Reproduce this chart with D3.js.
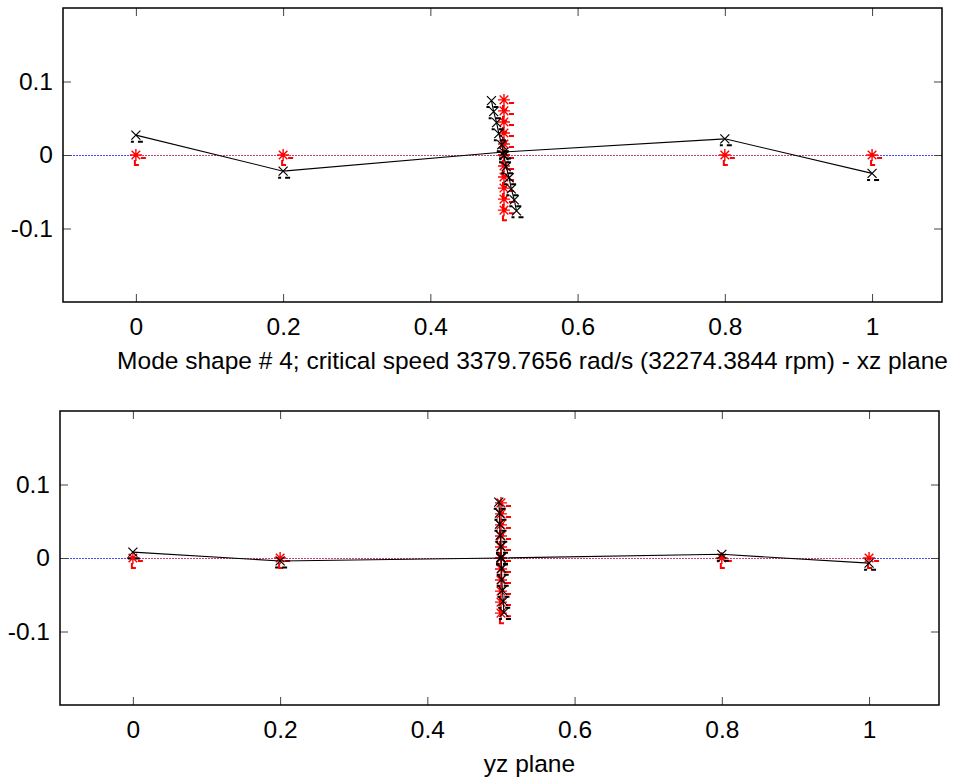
<!DOCTYPE html>
<html>
<head>
<meta charset="utf-8">
<script src="https://cdn.jsdelivr.net/npm/d3@7"></script>
<style>
body { margin: 0; background: #fff; }
svg text { font-family: "Liberation Sans", Arial, sans-serif; font-size: 24.5px; fill: #000; }
</style>
</head>
<body>
<svg id="fig" width="955" height="782"></svg>
<script>

let xTicks = [0, 0.2, 0.4, 0.6, 0.8, 1];
let yTicks = [-0.1, 0, 0.1];

// shaft nodes (undeformed red, deformed black)
let nodeX = [0, 0.2, 0.5, 0.8, 1];
let restY = [0, 0, 0, 0, 0];
let xzNodeY = [0.027, -0.022, 0.004, 0.022, -0.025];
let yzNodeY = [0.008, -0.004, 0, 0.005, -0.007];

// disk points at 0.5
let diskRestX = [0.5, 0.5, 0.5, 0.5, 0.5, 0.5, 0.5, 0.5, 0.5, 0.5, 0.5];
let diskRestY = [0.075, 0.06, 0.045, 0.03, 0.015, 0, -0.015, -0.03, -0.045, -0.06, -0.075];
let xzDiskX = [0.483, 0.486, 0.490, 0.493, 0.497, 0.500, 0.503, 0.507, 0.510, 0.514, 0.517];
let xzDiskY = [0.074, 0.059, 0.044, 0.029, 0.014, -0.001, -0.016, -0.031, -0.046, -0.061, -0.076];
let yzDiskX = [0.497, 0.498, 0.498, 0.499, 0.500, 0.500, 0.501, 0.501, 0.502, 0.503, 0.504];
let yzDiskY = [0.076, 0.061, 0.046, 0.031, 0.016, 0.001, -0.014, -0.029, -0.044, -0.059, -0.074];

let xLabels = ["Mode shape # 4; critical speed 3379.7656 rad/s (32274.3844 rpm) - xz plane", "yz plane"];

let svg = d3.select("#fig");

let panels = [
  {left: 63, right: 942, top: 8, bottom: 302, shaftY: xzNodeY, diskX: xzDiskX, diskY: xzDiskY, label: xLabels[0]},
  {left: 60, right: 939, top: 411, bottom: 705, shaftY: yzNodeY, diskX: yzDiskX, diskY: yzDiskY, label: xLabels[1]}
];

panels.forEach(p => drawPanel(p));


function drawPanel (p) {

  let x = d3.scaleLinear().domain([-0.099, 1.095]).range([p.left, p.right]);
  let y = d3.scaleLinear().domain([-0.2, 0.2]).range([p.bottom, p.top]);

  let g = svg.append("g");
  let y0 = Math.round(y(0)) + 0.5;

  // undeformed axis: blue over whole range, red/blue mix between end nodes
  g.append("line")
    .attr("x1", p.left + 1).attr("x2", p.right - 1)
    .attr("y1", y0).attr("y2", y0)
    .attr("stroke", "#4848ff").attr("stroke-width", 1)
    .attr("stroke-dasharray", "2,1");
  g.append("line")
    .attr("x1", Math.round(x(nodeX[0]))).attr("x2", Math.round(x(nodeX[nodeX.length - 1])))
    .attr("y1", y0).attr("y2", y0)
    .attr("stroke", "#c2407e").attr("stroke-width", 1)
    .attr("stroke-dasharray", "2,1");

  // red stars
  let rest = nodeX.map((v, i) => [v, restY[i]])
    .concat(diskRestX.map((v, i) => [v, diskRestY[i]]));
  let stars = g.selectAll(".star").data(rest).enter().append("g")
    .attr("class", "star")
    .attr("transform", d => `translate(${x(d[0])},${y(d[1])})`);
  stars.append("path")
    .attr("d", "M-6,0H6M0,-6V6M-4.3,-4.3L4.3,4.3M-4.3,4.3L4.3,-4.3")
    .attr("stroke", "#ff0000").attr("stroke-width", 1.4).attr("fill", "none");
  stars.append("path")
    .attr("d", "M5,3H10M-1,5V10H3")
    .attr("stroke", "#ff0000").attr("stroke-width", 2).attr("fill", "none");

  // deformed shaft and disk
  let line = d3.line().x(d => x(d[0])).y(d => y(d[1]));
  let shaft = nodeX.map((v, i) => [v, p.shaftY[i]]);
  let disk = p.diskX.map((v, i) => [v, p.diskY[i]]);
  g.append("path").datum(shaft).attr("d", line)
    .attr("fill", "none").attr("stroke", "#000").attr("stroke-width", 1.1);
  g.append("path").datum(disk).attr("d", line)
    .attr("fill", "none").attr("stroke", "#000").attr("stroke-width", 1.1);

  let crosses = g.selectAll(".cross").data(shaft.concat(disk)).enter().append("g")
    .attr("class", "cross")
    .attr("transform", d => `translate(${x(d[0])},${y(d[1])})`);
  crosses.append("path")
    .attr("d", "M-4.5,-4.5L4.5,4.5M-4.5,4.5L4.5,-4.5")
    .attr("stroke", "#000").attr("stroke-width", 1.2).attr("fill", "none");
  crosses.append("path")
    .attr("d", "M-5,6.5H-2M2,6.5H7")
    .attr("stroke", "#000").attr("stroke-width", 2).attr("fill", "none");

  // axes
  let fmt = d => String(d);
  let ax = g.append("g");
  ax.append("g").attr("transform", `translate(0,${p.bottom})`)
    .call(d3.axisBottom(x).tickValues(xTicks).tickFormat(fmt).tickSize(-8).tickPadding(16));
  ax.append("g").attr("transform", `translate(0,${p.top})`)
    .call(d3.axisTop(x).tickValues(xTicks).tickFormat("").tickSize(-8));
  ax.append("g").attr("transform", `translate(${p.left},0)`)
    .call(d3.axisLeft(y).tickValues(yTicks).tickFormat(fmt).tickSize(-8).tickPadding(10));
  ax.append("g").attr("transform", `translate(${p.right},0)`)
    .call(d3.axisRight(y).tickValues(yTicks).tickFormat("").tickSize(-8));

  ax.selectAll(".domain").remove();
  ax.selectAll(".tick line").attr("stroke", "#444");
  ax.selectAll("text")
    .style("font-family", "'Liberation Sans', Arial, sans-serif")
    .style("font-size", "24.5px").attr("fill", "#000");

  g.append("rect")
    .attr("x", p.left).attr("y", p.top)
    .attr("width", p.right - p.left).attr("height", p.bottom - p.top)
    .attr("fill", "none").attr("stroke", "#000").attr("stroke-width", 1.5);

  g.append("text")
    .attr("x", (p.left + p.right) / 2 + 30)
    .attr("y", p.bottom + 67)
    .attr("text-anchor", "middle")
    .text(p.label);
}

</script>
</body>
</html>
